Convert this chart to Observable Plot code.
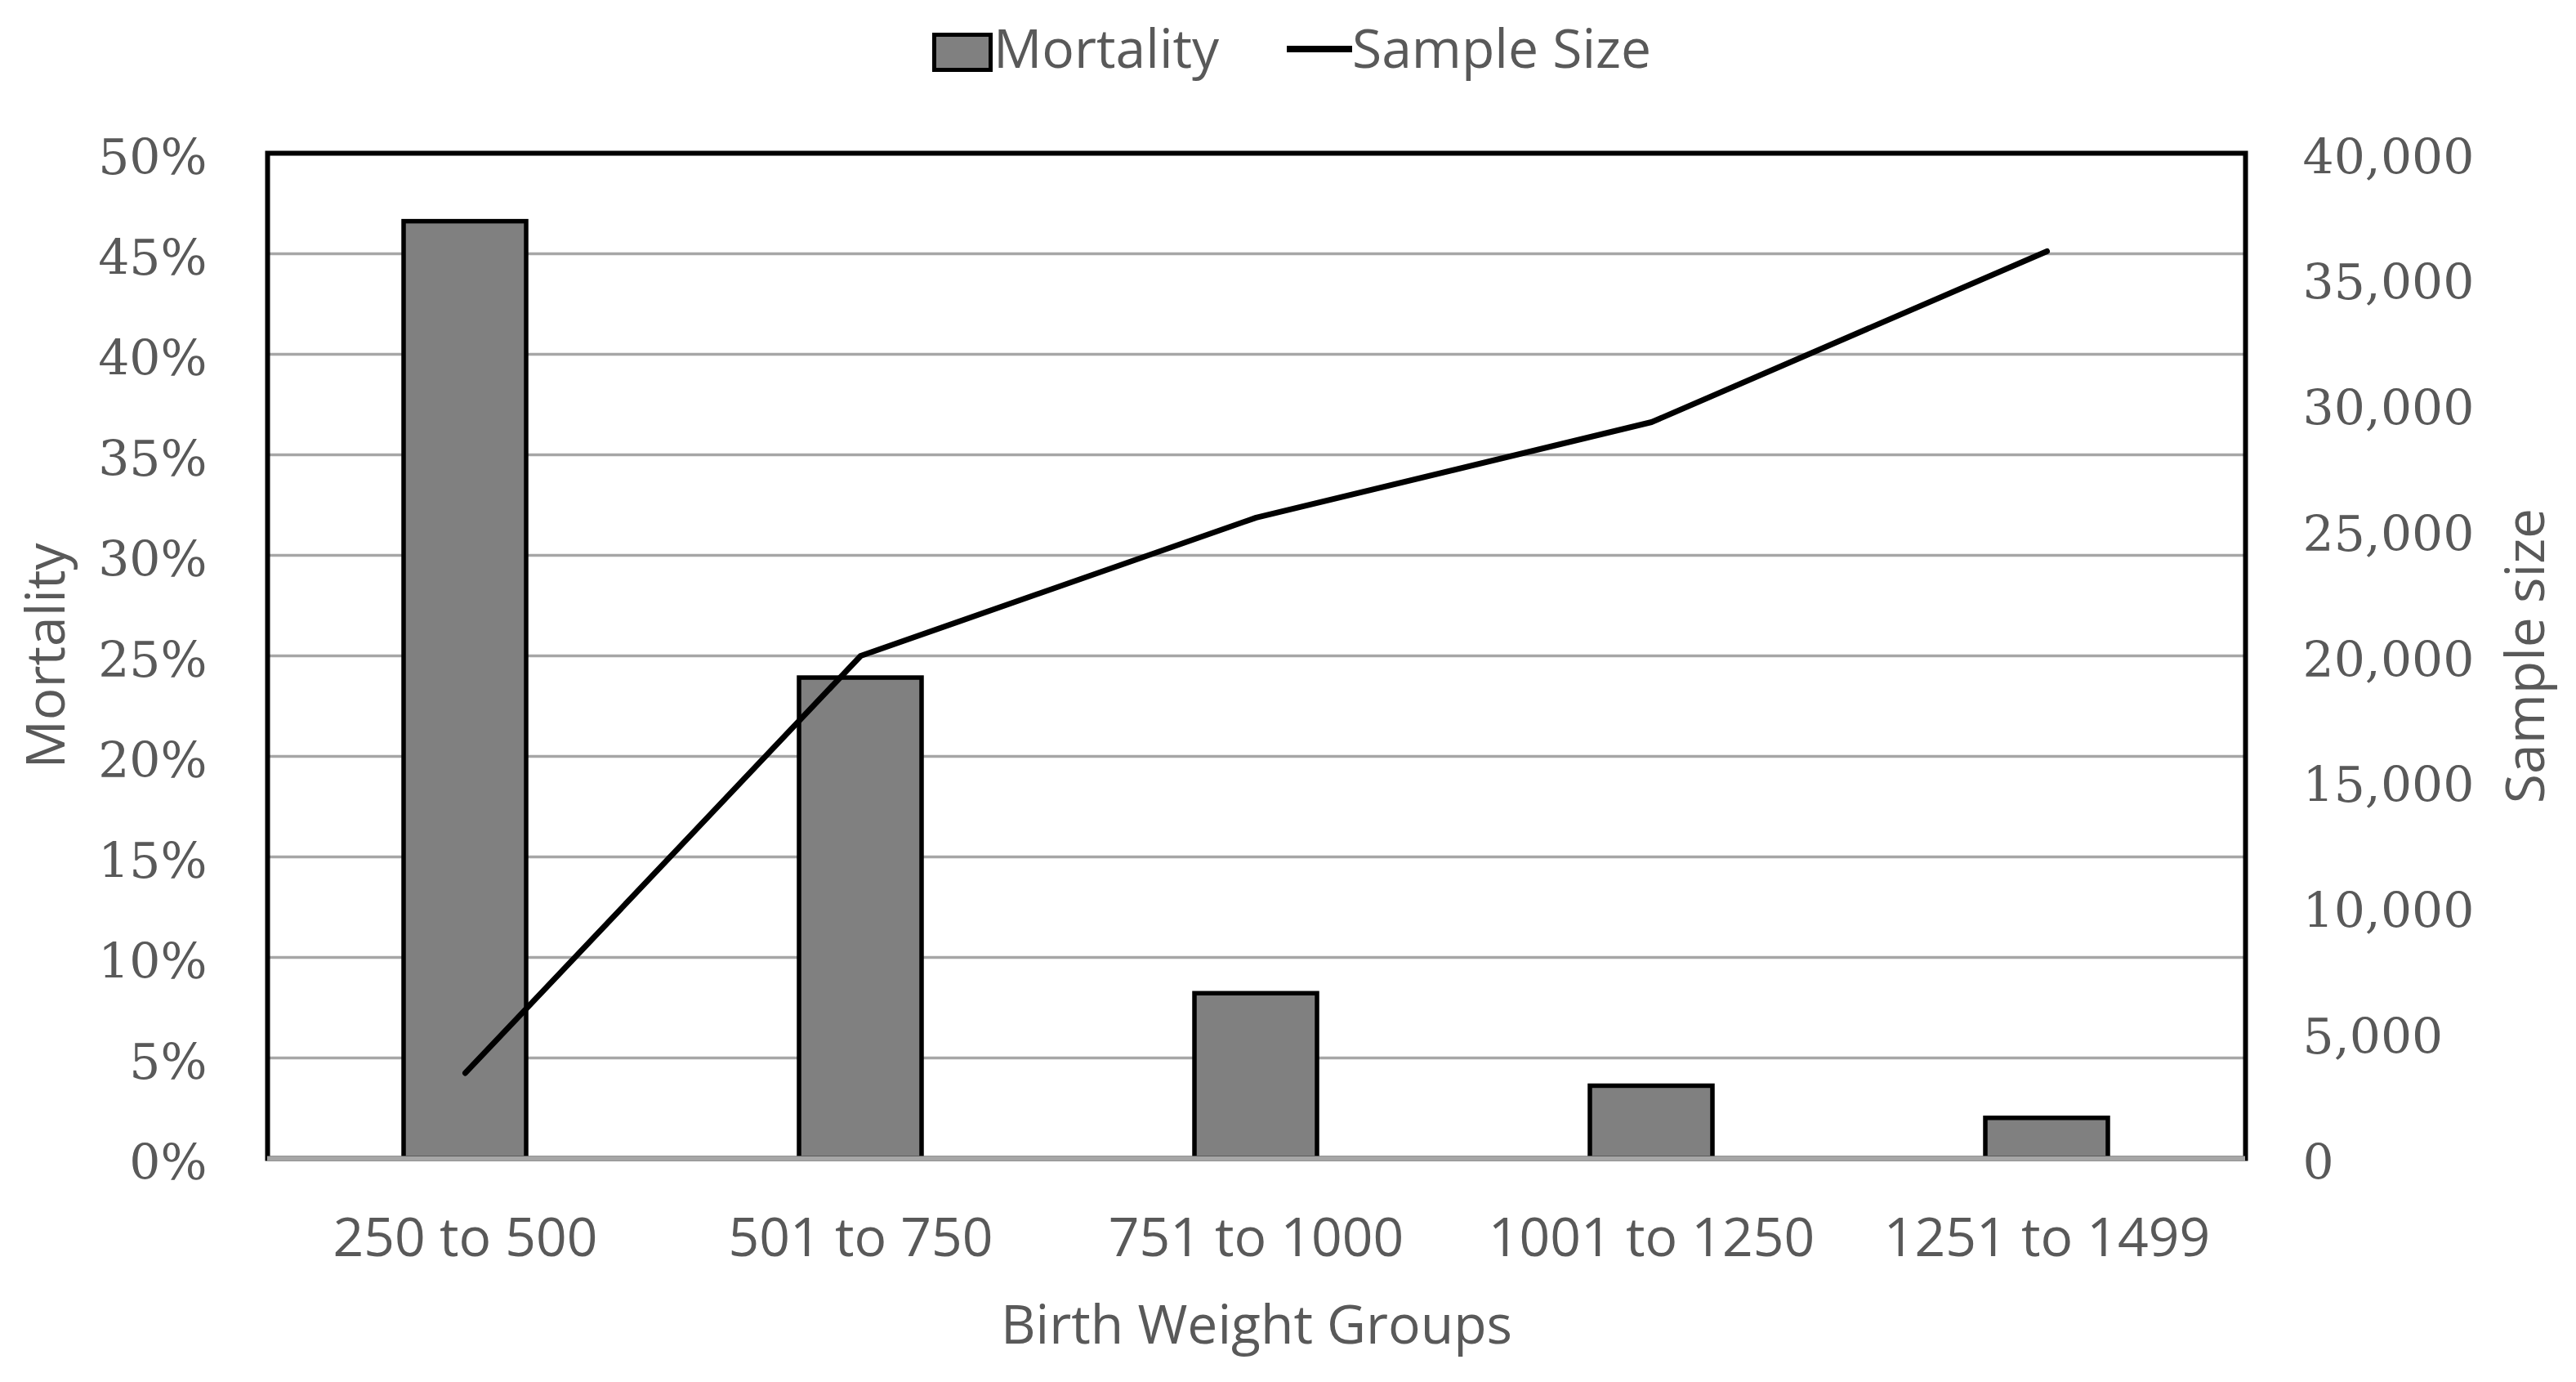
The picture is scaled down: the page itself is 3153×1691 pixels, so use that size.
<!DOCTYPE html>
<html>
<head>
<meta charset="utf-8">
<script src="https://cdn.jsdelivr.net/npm/d3@7"></script>
<script src="https://cdn.jsdelivr.net/npm/@observablehq/plot@0.6"></script>
<style>
  html, body { margin: 0; padding: 0; background: white; }
  #wrap { width: 3153px; }
  #legend { position: relative; width: 3153px; height: 110px; font-family: "Open Sans", sans-serif; font-size: 66px; color: #595959; }
  #legend .sw-bar { position: absolute; left: 1141px; top: 40px; width: 64px; height: 38px; background: #808080; border: 5px solid #000; }
  #legend .sw-line { position: absolute; left: 1575px; top: 56px; width: 80px; height: 8px; background: #000; }
  #legend .t { position: absolute; top: 24px; line-height: 1; white-space: nowrap; }
</style>
</head>
<body>
<div id="wrap">
  <div id="legend">
    <div class="sw-bar"></div><div class="t" style="left:1216px">Mortality</div>
    <div class="sw-line"></div><div class="t" style="left:1655px">Sample Size</div>
  </div>
  <div id="chart"></div>
</div>
<script>
const groups = ["250 to 500", "501 to 750", "751 to 1000", "1001 to 1250", "1251 to 1499"];
const mortality = [0.466, 0.239, 0.082, 0.036, 0.020];
const sampleSize = [3400, 20000, 25500, 29300, 36100];
const mortalityTicks = [0, 0.05, 0.10, 0.15, 0.20, 0.25, 0.30, 0.35, 0.40, 0.45, 0.50];
const sampleTicks = [0, 5000, 10000, 15000, 20000, 25000, 30000, 35000, 40000];
const sampleMax = 40000;
const mortalityMax = 0.5;

const data = groups.map((g, i) => ({group: g, mortality: mortality[i], sample: sampleSize[i]}));
const toY = v => v / sampleMax * mortalityMax;

const sans = "'Open Sans', sans-serif";
const serif = "'DejaVu Serif', serif";
const textColor = "#595959";

const chart = Plot.plot({
  width: 3153,
  height: 1581,
  marginTop: 77,
  marginBottom: 274,
  marginLeft: 327,
  marginRight: 405,
  style: {background: "white", overflow: "visible"},
  x: {domain: groups, paddingInner: 0.69, paddingOuter: 0.345, label: null},
  y: {domain: [0, mortalityMax], label: null},
  marks: [
    Plot.gridY(mortalityTicks.slice(1, -1), {stroke: "#a6a6a6", strokeOpacity: 1, strokeWidth: 3.5}),
    Plot.barY(data, {x: "group", y: "mortality", fill: "#808080", stroke: "#000", strokeWidth: 5.5}),
    Plot.line(data, {x: "group", y: d => toY(d.sample), stroke: "#000", strokeWidth: 7}),
    Plot.frame({stroke: "#000", strokeWidth: 6}),
    Plot.ruleY([0], {stroke: "#a6a6a6", strokeWidth: 6}),
    Plot.axisY({anchor: "left", ticks: mortalityTicks, tickFormat: d => Math.round(d * 100) + "%", tickSize: 0, tickPadding: 74, dy: 6, fontSize: 60, fontFamily: serif, fill: textColor, label: null}),
    Plot.axisY({anchor: "right", ticks: sampleTicks.map(toY), tickFormat: d => d3.format(",")(Math.round(d / mortalityMax * sampleMax)), tickSize: 0, tickPadding: 70, dy: 6, fontSize: 60, fontFamily: serif, fill: textColor, label: null}),
    Plot.axisX({anchor: "bottom", tickSize: 0, tickPadding: 73, fontSize: 66, fontFamily: sans, fill: textColor, label: null}),
    Plot.text(["Birth Weight Groups"], {frameAnchor: "bottom", lineAnchor: "bottom", dy: 226, fontSize: 66, fontFamily: sans, fill: textColor}),
    Plot.text(["Mortality"], {frameAnchor: "left", rotate: -90, dx: -270, lineAnchor: "middle", textAnchor: "middle", fontSize: 66, fontFamily: sans, fill: textColor}),
    Plot.text(["Sample size"], {frameAnchor: "right", rotate: -90, dx: 344, lineAnchor: "middle", textAnchor: "middle", fontSize: 66, fontFamily: sans, fill: textColor})
  ]
});
document.getElementById("chart").appendChild(chart);
</script>
</body>
</html>
